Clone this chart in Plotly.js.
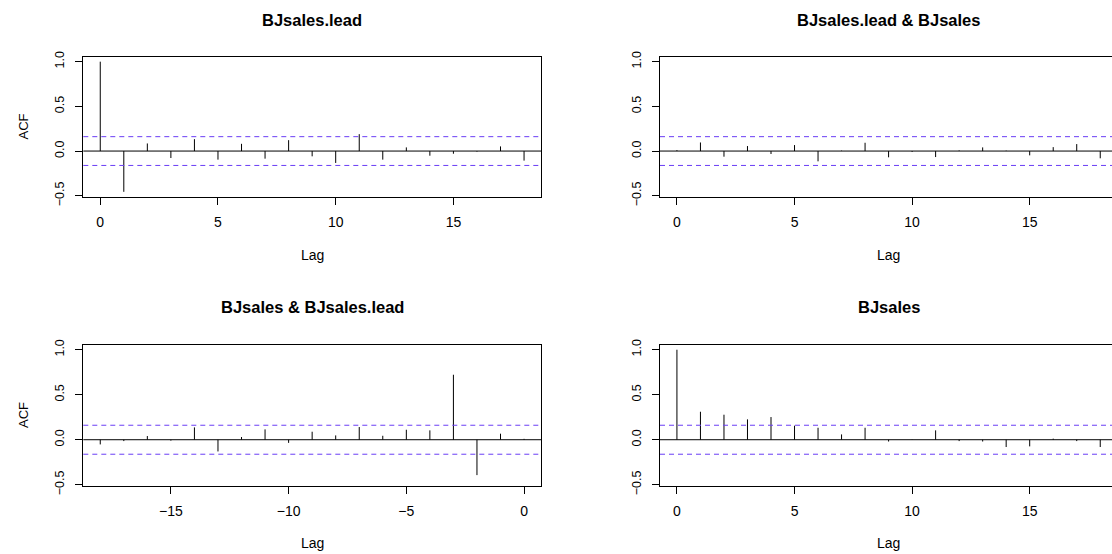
<!DOCTYPE html>
<html>
<head>
<meta charset="utf-8">
<script src="https://cdn.plot.ly/plotly-3.0.1.min.js"></script>
<style>
html,body{margin:0;padding:0;background:#fff;overflow:hidden;}
#chart{width:1112px;height:554px;}
</style>
</head>
<body>
<div id="chart"></div>
<script>
// ---- data ----
const lagsPos = [0,1,2,3,4,5,6,7,8,9,10,11,12,13,14,15,16,17,18];
const lagsNeg = [-18,-17,-16,-15,-14,-13,-12,-11,-10,-9,-8,-7,-6,-5,-4,-3,-2,-1,0];

const acfLead      = [1.0,-0.456,0.085,-0.078,0.133,-0.096,0.081,-0.085,0.122,-0.059,-0.133,0.189,-0.096,0.041,-0.052,-0.030,-0.007,0.052,-0.107];
const ccfLeadSales = [0.010,0.096,-0.063,0.056,-0.033,0.067,-0.115,0.005,0.093,-0.070,-0.010,-0.067,0.007,0.041,0.005,-0.048,0.044,0.078,-0.081];
const ccfSalesLead = [-0.052,-0.015,0.041,-0.010,0.137,-0.130,0.030,0.115,-0.035,0.089,0.048,0.141,0.044,0.111,0.104,0.722,-0.393,0.067,0.010];
const acfSales     = [1.0,0.311,0.278,0.226,0.252,0.156,0.133,0.059,0.133,-0.020,0.003,0.104,-0.015,-0.020,-0.081,-0.074,0.012,-0.015,-0.081];

const panelTitles = ["BJsales.lead","BJsales.lead & BJsales","BJsales & BJsales.lead","BJsales"];
const ciBound = 0.161;
const tickPos = [0,5,10,15];
const tickNeg = [-15,-10,-5,0];
const yTicks = [-0.5,0,0.5,1.0];

// ---- build ----
const FONT = "Liberation Sans, Arial, Helvetica, sans-serif";
const W = 1112, H = 554;
function spikes(lags, vals, xa, ya){
  const x=[], y=[];
  lags.forEach((l,i)=>{ x.push(l,l,null); y.push(0,vals[i],null); });
  return {type:'scatter', mode:'lines', x:x, y:y, xaxis:xa, yaxis:ya,
          line:{color:'#000', width:1}, hoverinfo:'skip', showlegend:false};
}
const traces = [
  spikes(lagsPos, acfLead, 'x', 'y'),
  spikes(lagsPos, ccfLeadSales, 'x2', 'y2'),
  spikes(lagsNeg, ccfSalesLead, 'x3', 'y3'),
  spikes(lagsPos, acfSales, 'x4', 'y4')
];

const leftDom  = [83.3/W, 541/W];
const rightDom = [660/W, 1.0];
const topDom   = [(H-197)/H, (H-56.5)/H];
const botDom   = [(H-486)/H, (H-344.5)/H];
const yRange = [-0.514, 1.058];

function xax(dom, range, tv, anchor, mirror){
  return {domain:dom, range:range, tickvals:tv, ticks:'outside', ticklen:7, tickwidth:1,
    tickcolor:'#000', showline:true, linecolor:'#000', linewidth:1, mirror:mirror,
    showgrid:false, zeroline:false, anchor:anchor, ticklabelstandoff:5,
    tickfont:{family:FONT, size:14, color:'#000'}, fixedrange:true};
}
function yax(dom, anchor, mirror){
  return {domain:dom, range:yRange, tickvals:yTicks, tickformat:'.1f', ticks:'outside', ticklen:7,
    tickwidth:1, tickcolor:'#000', showline:true, linecolor:'#000', linewidth:1, mirror:mirror,
    showgrid:false, zeroline:false, anchor:anchor, tickangle:-90, ticklabelstandoff:6,
    tickfont:{family:FONT, size:12.5, color:'#000'}, fixedrange:true};
}

const shapes = [];
[['x','y'],['x2','y2'],['x3','y3'],['x4','y4']].forEach(([xa,ya])=>{
  shapes.push({type:'line', xref:xa+' domain', yref:ya, x0:0, x1:1, y0:0, y1:0, line:{color:'#000', width:1}});
  shapes.push({type:'line', xref:xa+' domain', yref:ya, x0:0, x1:1, y0:ciBound, y1:ciBound, line:{color:'#6a3df5', width:1, dash:'5px,4px'}});
  shapes.push({type:'line', xref:xa+' domain', yref:ya, x0:0, x1:1, y0:-ciBound, y1:-ciBound, line:{color:'#6a3df5', width:1, dash:'5px,4px'}});
});

const lc = (leftDom[0]+leftDom[1])/2;
const rc = (660 + 1117.5)/2/W;
function ann(text, x, yPix, opts){
  return Object.assign({text:text, xref:'paper', yref:'paper', x:x, y:(H-yPix)/H,
    xanchor:'center', yanchor:'middle', showarrow:false,
    font:{family:FONT, size:14, color:'#000'}}, opts||{});
}
const TF = {family:FONT, size:16.5, color:'#000'};
const annotations = [
  ann('<b>'+panelTitles[0]+'</b>', lc, 20, {font:TF}),
  ann('<b>'+panelTitles[1]+'</b>', rc, 20, {font:TF}),
  ann('<b>'+panelTitles[2]+'</b>', lc, 307, {font:TF}),
  ann('<b>'+panelTitles[3]+'</b>', rc, 307, {font:TF}),
  ann('Lag', lc, 255), ann('Lag', rc, 255),
  ann('Lag', lc, 543), ann('Lag', rc, 543),
  ann('ACF', 23/W, 126.5, {textangle:-90, font:{family:FONT, size:13, color:'#000'}}),
  ann('ACF', 23/W, 415, {textangle:-90, font:{family:FONT, size:13, color:'#000'}})
];

const layout = {
  width:W, height:H, margin:{l:0,r:0,t:0,b:0}, paper_bgcolor:'#fff', plot_bgcolor:'#fff',
  font:{family:FONT, color:'#000'}, showlegend:false,
  xaxis: xax(leftDom, [-0.72,18.72], tickPos, 'y', true),
  yaxis: yax(topDom, 'x', true),
  xaxis2: xax(rightDom, [-0.72,18.50], tickPos, 'y2', true),
  yaxis2: yax(topDom, 'x2', false),
  xaxis3: xax(leftDom, [-18.72,0.72], tickNeg, 'y3', true),
  yaxis3: yax(botDom, 'x3', true),
  xaxis4: xax(rightDom, [-0.72,18.50], tickPos, 'y4', true),
  yaxis4: yax(botDom, 'x4', false),
  shapes: shapes, annotations: annotations
};
Plotly.newPlot('chart', traces, layout, {staticPlot:true, displayModeBar:false});
</script>
</body>
</html>
